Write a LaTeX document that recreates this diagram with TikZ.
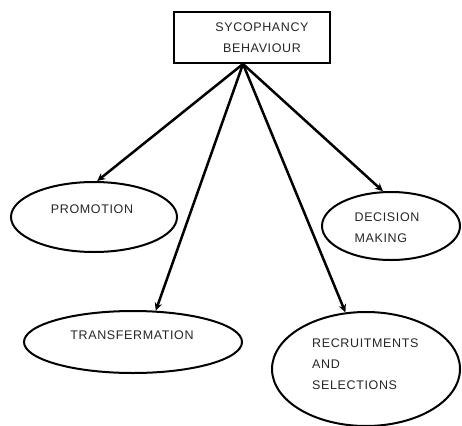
\documentclass[tikz,border=0pt]{standalone}
\usepackage{fontspec}
\setmainfont{Liberation Sans}[LetterSpace=5]
\usetikzlibrary{shapes.geometric,arrows.meta}
\begin{document}
\begin{tikzpicture}[x=1pt,y=-1pt,
  ovalshape/.style={ellipse,draw,line width=2pt,inner sep=0pt},
  lbl/.style={font=\fontsize{12.5}{21}\selectfont,text=black!85,inner sep=0pt},
  conn/.style={line width=2.5pt,-{Stealth[length=8pt,width=7.5pt]}}]
\useasboundingbox (0,0) rectangle (462,425);
\node[draw,line width=2.4pt,minimum width=156pt,minimum height=51pt,inner sep=0pt] (top) at (252,37.5) {};
\node[lbl,align=center] (toptext) at (262,38) {SYCOPHANCY\\BEHAVIOUR};
\coordinate (o) at (243,64);
\node[ovalshape,minimum width=166pt,minimum height=70pt] (prom) at (94,217) {};
\node[lbl] (promtext) at (92,209) {PROMOTION};
\node[ovalshape,minimum width=138pt,minimum height=68pt] (dec) at (391,226) {};
\node[lbl,align=left] (dectext) at (387,228) {DECISION\\MAKING};
\node[ovalshape,minimum width=218pt,minimum height=62pt] (trans) at (133,342) {};
\node[lbl] (transtext) at (132,335) {TRANSFERMATION};
\node[ovalshape,minimum width=188pt,minimum height=114pt] (rec) at (366,369) {};
\node[lbl,align=left,anchor=west] (rectext) at (312,364) {RECRUITMENTS\\AND\\SELECTIONS};
\draw[conn] (o) -- (prom.85);
\draw[conn] (o) -- (trans.54);
\draw[conn] (o) -- (rec.110);
\draw[conn] (o) -- (dec.103);
\end{tikzpicture}
\end{document}
